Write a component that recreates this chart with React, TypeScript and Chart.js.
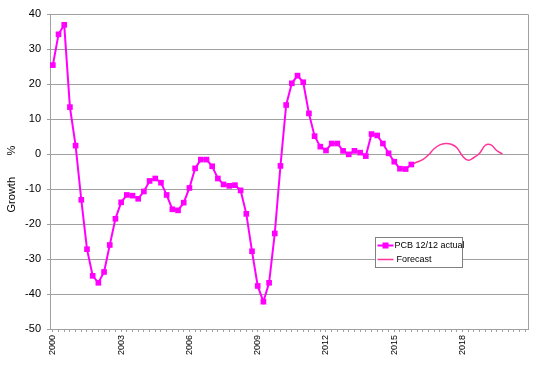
import React, { useEffect, useRef } from "react";
import { Chart, registerables } from "chart.js";

Chart.register(...registerables);

const years = [
  2000, 2001, 2002, 2003, 2004, 2005, 2006, 2007, 2008, 2009, 2010,
  2011, 2012, 2013, 2014, 2015, 2016, 2017, 2018, 2019, 2020,
];
const quarters = ["Q1", "Q2", "Q3", "Q4"];
const tickYears = ["2000", "2003", "2006", "2009", "2012", "2015", "2018"];

// PCB 12/12 growth, quarterly from 2000Q1 (actual)
const actualValues = [
  25.4, 34.2, 36.9, 13.4, 2.4, -13.1, -27.2, -34.8, -36.8, -33.7, -26.0, -18.5,
  -13.8, -11.7, -11.9, -12.8, -10.7, -7.7, -7.0, -8.2, -11.7, -15.8, -16.1, -13.9,
  -9.7, -4.1, -1.6, -1.6, -3.5, -7.0, -8.7, -9.1, -8.9, -10.4, -17.1, -27.8,
  -37.7, -42.2, -36.8, -22.7, -3.4, 14.0, 20.2, 22.4, 20.5, 11.6, 5.1, 2.1,
  1.0, 3.0, 3.0, 0.9, -0.1, 0.9, 0.4, -0.6, 5.7, 5.3, 3.0, 0.2,
  -2.2, -4.2, -4.3, -3.0,
];
// Forecast, starting at 2015Q4
const forecastStart = 63;
const forecastValues = [
  -3.0, -2.3, -1.6, -0.3, 1.5, 2.6, 3.0, 2.8, 1.8, -0.6, -1.8, -1.0, 0.2, 2.5, 2.6, 1.0, 0.0,
];

const actualLabel = "PCB 12/12 actual";
const forecastLabel = "Forecast";
const yTitle = "Growth       %     ";

const FONT = "Arial, 'Liberation Sans', sans-serif";
const GRID = "#a0a0a0";
const ACTUAL_COLOR = "#ff00ff";
const FORECAST_COLOR = "#ff3399";

const frameLegendPlugin = {
  id: "frameLegend",
  afterDraw(chart: any) {
    const { ctx, chartArea } = chart;
    ctx.save();
    // plot frame (top & right)
    ctx.strokeStyle = GRID;
    ctx.lineWidth = 1;
    ctx.beginPath();
    ctx.moveTo(Math.round(chartArea.left) + 0.5, Math.round(chartArea.top) + 0.5);
    ctx.lineTo(Math.round(chartArea.right) + 0.5, Math.round(chartArea.top) + 0.5);
    ctx.lineTo(Math.round(chartArea.right) + 0.5, Math.round(chartArea.bottom) + 0.5);
    ctx.stroke();

    // legend box
    const bx = 375.5, by = 237.5, bw = 87, bh = 30;
    ctx.fillStyle = "#ffffff";
    ctx.fillRect(bx, by, bw, bh);
    ctx.strokeStyle = "#808080";
    ctx.strokeRect(bx, by, bw, bh);

    const ds = chart.data.datasets;
    const rows = [by + 8, by + 22];
    ctx.font = `9px ${FONT}`;
    ctx.textBaseline = "middle";
    ctx.textAlign = "left";
    ds.forEach((d: any, i: number) => {
      const ry = rows[i];
      ctx.strokeStyle = d.borderColor;
      ctx.lineWidth = d.borderWidth;
      ctx.beginPath();
      ctx.moveTo(bx + 2, ry);
      ctx.lineTo(bx + 18, ry);
      ctx.stroke();
      if (d.pointRadius > 0) {
        ctx.fillStyle = d.pointBackgroundColor;
        ctx.fillRect(bx + 10 - 3, ry - 3, 6, 6);
      }
      ctx.fillStyle = "#000000";
      ctx.fillText(d.label, bx + (i === 0 ? 19 : 21), ry + 0.5);
    });
    ctx.restore();
  },
};

export default function App() {
  const canvasRef = useRef<HTMLCanvasElement | null>(null);

  useEffect(() => {
    document.body.style.margin = "0";
    const categories: string[] = [];
    years.forEach((y) => quarters.forEach((q) => categories.push(`${y}${q}`)));

    const actualData = categories.map((_, i) => (i < actualValues.length ? actualValues[i] : null));
    const forecastData = categories.map((_, i) => {
      const k = i - forecastStart;
      return k >= 0 && k < forecastValues.length ? forecastValues[k] : null;
    });

    const chart = new Chart(canvasRef.current as HTMLCanvasElement, {
      type: "line",
      data: {
        labels: categories,
        datasets: [
          {
            label: actualLabel,
            data: actualData,
            borderColor: ACTUAL_COLOR,
            backgroundColor: ACTUAL_COLOR,
            borderWidth: 2,
            pointStyle: "rect",
            pointRadius: 4,
            pointBackgroundColor: ACTUAL_COLOR,
            pointBorderColor: ACTUAL_COLOR,
            pointBorderWidth: 0,
            tension: 0,
          },
          {
            label: forecastLabel,
            data: forecastData,
            borderColor: FORECAST_COLOR,
            backgroundColor: FORECAST_COLOR,
            borderWidth: 1.5,
            pointRadius: 0,
            tension: 0.4,
          },
        ],
      },
      options: {
        animation: false,
        responsive: false,
        events: [],
        layout: { padding: { left: 0, right: 31, top: 14, bottom: 0 } },
        plugins: {
          legend: { display: false },
          tooltip: { enabled: false },
        },
        scales: {
          x: {
            type: "category",
            offset: true,
            grid: {
              drawOnChartArea: false,
              drawTicks: true,
              tickLength: 3,
              color: GRID,
            },
            border: { display: true, color: GRID },
            ticks: {
              autoSkip: false,
              minRotation: 90,
              maxRotation: 90,
              padding: 3,
              color: "#000000",
              font: { size: 9, family: FONT },
              callback: function (this: any, _v: any, idx: number) {
                const c = categories[idx];
                const y = c.slice(0, 4);
                return c.endsWith("Q1") && tickYears.includes(y) ? y : "";
              },
            },
            afterFit: (scale: any) => {
              scale.height = 53;
            },
          },
          y: {
            min: -50,
            max: 40,
            grid: { color: GRID, tickLength: 3, lineWidth: 1 },
            border: { display: true, color: GRID },
            ticks: {
              stepSize: 10,
              padding: 6,
              color: "#000000",
              font: { size: 11, family: FONT },
            },
            title: {
              display: true,
              text: yTitle,
              color: "#000000",
              font: { size: 11, family: FONT },
              padding: { top: 5, bottom: 0 },
            },
            afterFit: (scale: any) => {
              scale.width = 50;
            },
          },
        },
      },
      plugins: [frameLegendPlugin],
    });
    return () => chart.destroy();
  }, []);

  return (
    <div style={{ width: 559, height: 382, background: "#ffffff" }}>
      <canvas ref={canvasRef} width={559} height={382} />
    </div>
  );
}
